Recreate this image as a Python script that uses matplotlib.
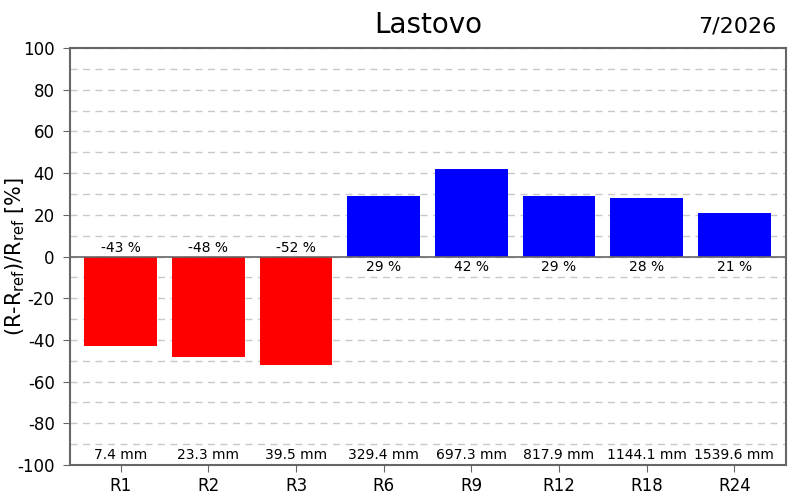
import matplotlib
matplotlib.use("Agg")
import matplotlib.pyplot as plt
import numpy as np

plt.rcParams["axes.unicode_minus"] = False

categories = ["R1", "R2", "R3", "R6", "R9", "R12", "R18", "R24"]
anomaly = [-43, -48, -52, 29, 42, 29, 28, 21]
amounts = ["7.4 mm", "23.3 mm", "39.5 mm", "329.4 mm", "697.3 mm", "817.9 mm", "1144.1 mm", "1539.6 mm"]
title = "Lastovo"
date_label = "7/2026"

fig = plt.figure(figsize=(8, 5), dpi=100)
ax = fig.add_axes([0.0875, 0.07, 0.895, 0.834])

x = np.arange(len(categories))
colors = ["red" if v < 0 else "blue" for v in anomaly]
ax.bar(x, anomaly, width=0.83, color=colors, zorder=2)
ax.axhline(0, color="#666666", lw=1.2, zorder=3)

ax.set_xlim(-0.58, 7.59)
ax.set_ylim(-100, 100)
ax.set_yticks(np.arange(-100, 101, 20))
ax.set_yticks(np.arange(-90, 100, 20), minor=True)
ax.tick_params(axis="y", which="minor", length=0)
ax.grid(axis="y", which="both", linestyle=(0, (5, 4)), color="#c8c8c8", lw=1, zorder=0)
ax.set_xticks(x)
ax.set_xticklabels(categories)
ax.tick_params(labelsize=12, colors="#666666", labelcolor="black", length=5)
ax.tick_params(axis="y", pad=6)
for s in ax.spines.values():
    s.set_color("#666666")
    s.set_linewidth(1.5)

for xi, v, a in zip(x, anomaly, amounts):
    if v < 0:
        ax.text(xi, 0.8, f"{v} %", ha="center", va="bottom", fontsize=10)
    else:
        ax.text(xi, -1.5, f"{v} %", ha="center", va="top", fontsize=10)
    ax.text(xi, -98.5, a, ha="center", va="bottom", fontsize=10)

ax.set_ylabel(r"(R-R$_{\mathrm{ref}}$)/R$_{\mathrm{ref}}$ [%]", fontsize=15)
ax.yaxis.set_label_coords(-0.06, 0.5)
fig.text(0.535, 0.95, title, ha="center", va="center", fontsize=20)
fig.text(0.97, 0.948, date_label, ha="right", va="center", fontsize=16)

fig.savefig("out.png", dpi=100)
